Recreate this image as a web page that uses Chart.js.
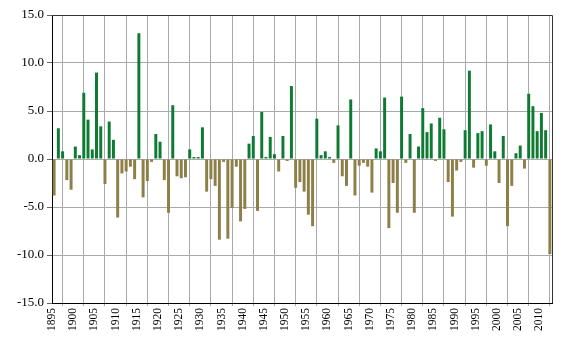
<!DOCTYPE html>
<html><head><meta charset="utf-8">
<script src="https://cdn.jsdelivr.net/npm/chart.js@4/dist/chart.umd.min.js"></script>
<style>html,body{margin:0;padding:0;background:#fff}#wrap{width:570px;height:340px}</style>
</head><body><div id="wrap"><canvas id="c" width="570" height="340"></canvas></div>
<script>
const years = [1895,1896,1897,1898,1899,1900,1901,1902,1903,1904,1905,1906,1907,1908,1909,
1910,1911,1912,1913,1914,1915,1916,1917,1918,1919,1920,1921,1922,1923,1924,1925,1926,1927,1928,1929,
1930,1931,1932,1933,1934,1935,1936,1937,1938,1939,1940,1941,1942,1943,1944,1945,1946,1947,1948,1949,
1950,1951,1952,1953,1954,1955,1956,1957,1958,1959,1960,1961,1962,1963,1964,1965,1966,1967,1968,1969,
1970,1971,1972,1973,1974,1975,1976,1977,1978,1979,1980,1981,1982,1983,1984,1985,1986,1987,1988,1989,
1990,1991,1992,1993,1994,1995,1996,1997,1998,1999,2000,2001,2002,2003,2004,2005,2006,2007,2008,2009,
2010,2011,2012];
const values = [-3.8,3.2,0.8,-2.2,-3.2,1.3,0.4,6.9,4.1,1.0,9.0,3.4,-2.6,3.9,2.0,
-6.1,-1.5,-1.3,-0.8,-2.1,13.1,-4.0,-2.3,-0.3,2.6,1.8,-2.2,-5.6,5.6,-1.8,-2.0,-1.9,1.0,0.2,0.2,
3.3,-3.4,-2.1,-2.8,-8.4,-0.3,-8.3,-5.1,-0.8,-6.5,-5.2,1.6,2.4,-5.4,4.9,0.2,2.3,0.5,-1.3,2.4,
-0.2,7.6,-3.0,-2.4,-3.4,-5.8,-7.0,4.2,0.4,0.8,0.2,-0.4,3.5,-1.8,-2.8,6.2,-3.8,-0.7,-0.4,-0.8,
-3.5,1.1,0.8,6.4,-7.2,-2.5,-5.6,6.5,-0.4,2.6,-5.6,1.3,5.3,2.8,3.7,-0.2,4.3,3.1,-2.4,-6.0,
-1.2,-0.3,3.0,9.2,-0.9,2.7,2.9,-0.7,3.6,0.8,-2.5,2.4,-7.0,-2.8,0.6,1.4,-1.0,6.8,5.5,2.9,
4.8,3.0,-9.9];
const xTickYears = [1895,1900,1905,1910,1915,1920,1925,1930,1935,1940,1945,1950,1955,1960,1965,1970,1975,1980,1985,1990,1995,2000,2005,2010];
const yTicks = [-15,-10,-5,0,5,10,15];

const GREEN = '#0e7a32';
const OLIVE = '#8c7f48';
const GRID = '#a9a9a9';

const frame = {
  id: 'frame',
  afterDraw(chart) {
    const {ctx, chartArea: a} = chart;
    ctx.save();
    ctx.strokeStyle = '#333';
    ctx.lineWidth = 1;
    ctx.beginPath();
    ctx.moveTo(a.left, Math.round(a.top) + 0.5);
    ctx.lineTo(Math.round(a.right) + 0.5, Math.round(a.top) + 0.5);
    ctx.lineTo(Math.round(a.right) + 0.5, a.bottom);
    ctx.stroke();
    ctx.restore();
  }
};

new Chart(document.getElementById('c'), {
  type: 'bar',
  data: {
    datasets: [{
      data: years.map((y, i) => ({x: y + 0.5, y: values[i]})),
      backgroundColor: ctx => (ctx.raw && ctx.raw.y < 0) ? OLIVE : GREEN,
      borderWidth: 0,
      barPercentage: 0.7,
      categoryPercentage: 1
    }]
  },
  options: {
    responsive: false,
    animation: false,
    devicePixelRatio: 1,
    layout: {padding: {left: 0, top: 15, right: 18, bottom: 0}},
    plugins: {legend: {display: false}, tooltip: {enabled: false}},
    scales: {
      x: {
        type: 'linear',
        min: 1895,
        max: 2013,
        offset: false,
        afterBuildTicks: s => { s.ticks = xTickYears.map(v => ({value: v})); },
        afterFit: s => { s.height = 37; },
        ticks: {
          autoSkip: false,
          maxRotation: 90,
          minRotation: 90,
          padding: 2,
          color: '#000',
          font: {family: '"Liberation Serif", "Times New Roman", serif', size: 11.5},
          callback: v => String(v)
        },
        grid: {color: GRID, lineWidth: 1, drawTicks: true, tickLength: 3, tickColor: GRID},
        border: {color: '#000', width: 1}
      },
      y: {
        min: -15,
        max: 15,
        afterBuildTicks: s => { s.ticks = yTicks.map(v => ({value: v})); },
        afterFit: s => { s.width = 52; },
        ticks: {
          padding: 3,
          color: '#000',
          font: {family: '"Liberation Serif", "Times New Roman", serif', size: 13},
          callback: v => Number(v).toFixed(1)
        },
        grid: {color: GRID, lineWidth: 1, drawTicks: true, tickLength: 5, tickColor: '#666'},
        border: {color: '#000', width: 1}
      }
    }
  },
  plugins: [frame]
});
</script>
</body></html>
